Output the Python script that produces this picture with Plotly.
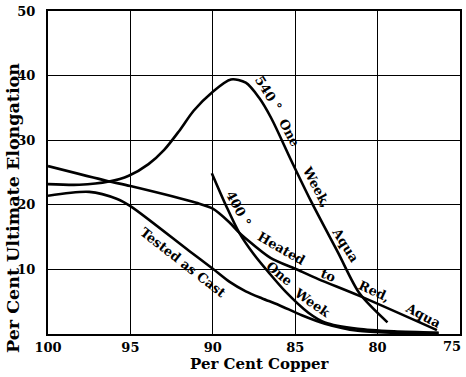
import plotly.graph_objects as go

# Curve data (Per Cent Copper, Per Cent Ultimate Elongation)
aged540_x = [100, 98.1, 96.3, 95.1, 93.9, 92.95, 92.05, 91.15, 90.05, 88.9, 88.0, 87.2, 86.45, 85.25, 84.05, 82.4, 81.1, 79.4]
aged540_y = [23.2, 23.1, 23.6, 24.5, 26.3, 28.5, 31.4, 34.6, 37.4, 39.4, 38.9, 36.6, 33.4, 26.9, 20.6, 12.6, 6.3, 1.8]

red_x = [100, 96.4, 95, 91, 90, 89, 88.4, 88, 86.5, 85, 83.6, 81.1, 76.4]
red_y = [26.0, 23.7, 22.9, 20.3, 19.4, 17.3, 15.7, 14.8, 11.8, 10.1, 8.5, 5.9, 0.6]

week400_x = [90.06, 89.2, 88.4, 87.5, 86.6, 85.6, 84.2, 83.2, 81.2, 79.0, 76.3]
week400_y = [24.9, 19.9, 15.7, 12.3, 9.5, 6.6, 3.3, 1.8, 0.8, 0.4, 0.2]

cast_x = [100, 97.5, 95.8, 95, 91.45, 90, 89, 88, 87, 86, 84.6, 83.2, 81.2, 79.0, 76.3]
cast_y = [21.4, 22.0, 20.9, 19.8, 12.9, 10.1, 8.1, 6.6, 5.5, 4.5, 2.9, 1.6, 0.5, 0.2, 0.15]

x_ticks = [100, 95, 90, 85, 80]
y_ticks = [10, 20, 30, 40, 50]

labels = [
    ("540 °", 86.63, 37.2, 58),
    ("One", 85.36, 31.2, 62),
    ("Week,", 83.73, 22.8, 62),
    ("Aqua", 81.93, 13.7, 58),
    ("400 °", 88.43, 19.5, 62),
    ("Heated", 85.84, 13.2, 30),
    ("to", 82.95, 9.1, 22),
    ("Red,", 80.18, 6.6, 25),
    ("Aqua", 77.23, 2.9, 28),
    ("One", 85.96, 9.4, 40),
    ("Week", 83.98, 4.9, 35),
    ("Tested as Cast", 91.8, 11.1, 38),
]

FONT = "DejaVu Serif"

fig = go.Figure()
for xs, ys in [(aged540_x, aged540_y), (red_x, red_y), (week400_x, week400_y), (cast_x, cast_y)]:
    fig.add_trace(go.Scatter(x=xs, y=ys, mode="lines",
                             line=dict(color="black", width=2.6, shape="spline", smoothing=0.8),
                             hoverinfo="skip", showlegend=False))

for text, x, y, ang in labels:
    fig.add_annotation(x=x, y=y, text="<b>%s</b>" % text, showarrow=False, textangle=ang,
                       font=dict(family=FONT, size=13, color="black"))

# last tick label (75) sits on the right border; keep it inside the page
fig.add_annotation(x=75, y=0, yref="paper", xanchor="right", yanchor="top", xshift=3, yshift=-3,
                   text="<b>75</b>", showarrow=False, font=dict(family=FONT, size=13, color="black"))

# axis titles
fig.add_annotation(x=0.514, y=0, xref="paper", yref="paper", yanchor="middle", yshift=-30,
                   text="<b>Per Cent Copper</b>", showarrow=False,
                   font=dict(family=FONT, size=15, color="black"))
fig.add_annotation(x=-0.085, y=0.39, xref="paper", yref="paper", xanchor="center", yanchor="middle",
                   text="<b>Per Cent Ultimate Elongation</b>", showarrow=False, textangle=-90,
                   font=dict(family=FONT, size=17.5, color="black"))

fig.update_layout(
    width=466, height=377,
    margin=dict(l=48, r=4, t=9, b=43),
    paper_bgcolor="white", plot_bgcolor="white",
    font=dict(family=FONT, color="black"),
)
fig.update_xaxes(range=[100, 75], tickvals=x_ticks + [75], ticktext=["<b>%d</b>" % v for v in x_ticks] + [""],
                 tickfont=dict(size=13, family=FONT),
                 showgrid=True, gridcolor="black", gridwidth=1,
                 showline=True, linecolor="black", linewidth=2, mirror=True,
                 ticks="", zeroline=False)
fig.update_yaxes(range=[0, 50], tickvals=y_ticks, ticktext=["<b>%d</b>" % v for v in y_ticks],
                 tickfont=dict(size=13, family=FONT),
                 showgrid=True, gridcolor="black", gridwidth=1,
                 showline=True, linecolor="black", linewidth=2, mirror=True,
                 ticks="", ticklabelstandoff=8, zeroline=False)

fig.write_html("out.html")
